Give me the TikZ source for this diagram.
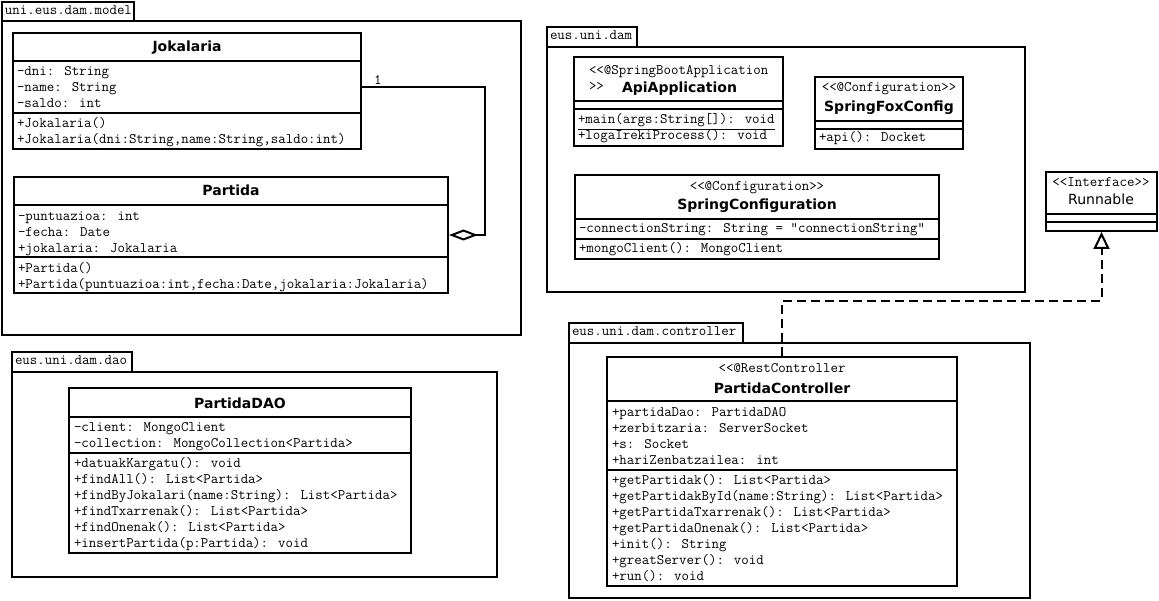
\documentclass[tikz,border=0pt]{standalone}
\usepackage{fontspec}
\setmainfont{DejaVu Sans}
\newfontfamily\titlefam{DejaVu Sans}
\usetikzlibrary{arrows.meta,fit}
\newcommand\rows[4]{\foreach \q [count=\i] in {#4}{\node[txt] (#1\i) at (#2,{#3+16*(\i-1)}) {\q};}}
\begin{document}
\begin{tikzpicture}[x=1pt,y=-1pt,line width=2pt,
  pk/.style={draw,inner sep=0pt,fill=white},
  box/.style={draw,inner sep=0pt,fill=white},
  txt/.style={anchor=west,inner sep=0pt,text height=9pt,text depth=3pt,font=\ttfamily\fontsize{14.5}{16}\selectfont},
  ster/.style={txt,anchor=center},
  ttl/.style={inner sep=0pt,text height=10pt,text depth=0pt,font=\titlefam\bfseries\fontsize{14}{16}\selectfont},
  ttlr/.style={inner sep=0pt,text height=10pt,text depth=0pt,font=\titlefam\fontsize{14}{16}\selectfont},
  agg/.style={-{Diamond[open,length=29pt,width=11pt]}},
  real/.style={dash pattern=on 9pt off 5pt,-{Triangle[open,length=17pt,width=16pt]}}]
\useasboundingbox (0,0) rectangle (1159,601);
% ---------- packages
\node[pk,fit={(2,2)(134,21)}] (mtab) {};
\node[pk,fit={(2,21)(521,335)}] (mbody) {};
\node[txt] (mlab) at (4,11.5) {uni.eus.dam.model};
\node[pk,fit={(547,27)(637,47)}] (dtab) {};
\node[pk,fit={(547,47)(1025,292)}] (dbody) {};
\node[txt] (dlab) at (549,37) {eus.uni.dam};
\node[pk,fit={(12,352)(132,372)}] (otab) {};
\node[pk,fit={(12,372)(497,577)}] (obody) {};
\node[txt] (olab) at (14,362) {eus.uni.dam.dao};
\node[pk,fit={(569,323)(743,343)}] (ctab) {};
\node[pk,fit={(569,343)(1030,598)}] (cbody) {};
\node[txt] (clab) at (571,333) {eus.uni.dam.controller};
% ---------- Jokalaria
\node[box,fit={(13,33)(361,149)}] (jok) {};
\draw (13,61) -- (361,61) (13,113) -- (361,113);
\node[ttl] (jokt) at (187,47) {Jokalaria};
\rows{ja}{16}{73}{{-dni: String},{-name: String},{-saldo: int}}
\rows{jm}{16}{125}{{+Jokalaria()},{+Jokalaria(dni:String,name:String,saldo:int)}}
% ---------- Partida
\node[box,fit={(14,177)(448,293)}] (par) {};
\draw (14,205) -- (448,205) (14,257) -- (448,257);
\node[ttl] (part) at (231,191) {Partida};
\rows{pa}{17}{218}{{-puntuazioa: int},{-fecha: Date},{+jokalaria: Jokalaria}}
\rows{pm}{17}{270}{{+Partida()},{+Partida(puntuazioa:int,fecha:Date,jokalaria:Jokalaria)}}
% ---------- ApiApplication
\node[box,fit={(574,57)(783,146)}] (api) {};
\draw (574,101) -- (783,101) (574,109) -- (783,109);
\node[txt] (apis) at (588,72) {<<@SpringBootApplication};
\node[txt] (apis2) at (588,88) {>>};
\node[ttl,anchor=west] (apit) at (621,88) {ApiApplication};
\rows{apm}{577}{121}{{\underline{+main(args:String[]): void}},{\underline{+logaIrekiProcess(): void}}}
% ---------- SpringFoxConfig
\node[box,fit={(815,77)(963,149)}] (fox) {};
\draw (815,121) -- (963,121) (815,129) -- (963,129);
\node[ster] (foxs) at (889,89) {<<@Configuration>>};
\node[ttl] (foxt) at (889,107) {SpringFoxConfig};
\rows{foxm}{818}{139}{{+api(): Docket}}
% ---------- SpringConfiguration
\node[box,fit={(575,175)(939,259)}] (scf) {};
\draw (575,219) -- (939,219) (575,239) -- (939,239);
\node[ster] (scfs) at (757,188) {<<@Configuration>>};
\node[ttl] (scft) at (757,205) {SpringConfiguration};
\rows{scfa}{578}{230}{{-connectionString: String = "connectionString"}}
\rows{scfm}{578}{250}{{+mongoClient(): MongoClient}}
% ---------- Runnable
\node[box,fit={(1046,172)(1157,231)}] (run) {};
\draw (1046,214) -- (1157,214) (1046,222) -- (1157,222);
\node[ster] (runs) at (1101,184) {<<Interface>>};
\node[ttlr] (runt) at (1101,200) {Runnable};
% ---------- PartidaDAO
\node[box,fit={(69,388)(411,553)}] (dao) {};
\draw (69,417) -- (411,417) (69,453) -- (411,453);
\node[ttl] (daot) at (240,403) {PartidaDAO};
\rows{daoa}{73}{428}{{-client: MongoClient},{-collection: MongoCollection<Partida>}}
\rows{daom}{73}{464}{{+datuakKargatu(): void},{+findAll(): List<Partida>},{+findByJokalari(name:String): List<Partida>},{+findTxarrenak(): List<Partida>},{+findOnenak(): List<Partida>},{+insertPartida(p:Partida): void}}
% ---------- PartidaController
\node[box,fit={(607,357)(957,586)}] (ctl) {};
\draw (607,401) -- (957,401) (607,470) -- (957,470);
\node[ster] (ctls) at (782,370) {<<@RestController};
\node[ttl] (ctlt) at (782,388) {PartidaController};
\rows{ctla}{611}{413}{{+partidaDao: PartidaDAO},{+zerbitzaria: ServerSocket},{+s: Socket},{+hariZenbatzailea: int}}
\rows{ctlm}{611}{481}{{+getPartidak(): List<Partida>},{+getPartidakById(name:String): List<Partida>},{+getPartidaTxarrenak(): List<Partida>},{+getPartidaOnenak(): List<Partida>},{+init(): String},{+greatServer(): void},{+run(): void}}
% ---------- connectors
\draw[agg] ([yshift=4pt]jok.east) -- ++(123,0) |- (par.east);
\node[txt,anchor=base west,text height=,text depth=] (one) at (373,85) {1};
\draw[real] (ctl.north) -- ++(0,-55) -| (run.south);
\end{tikzpicture}
\end{document}
